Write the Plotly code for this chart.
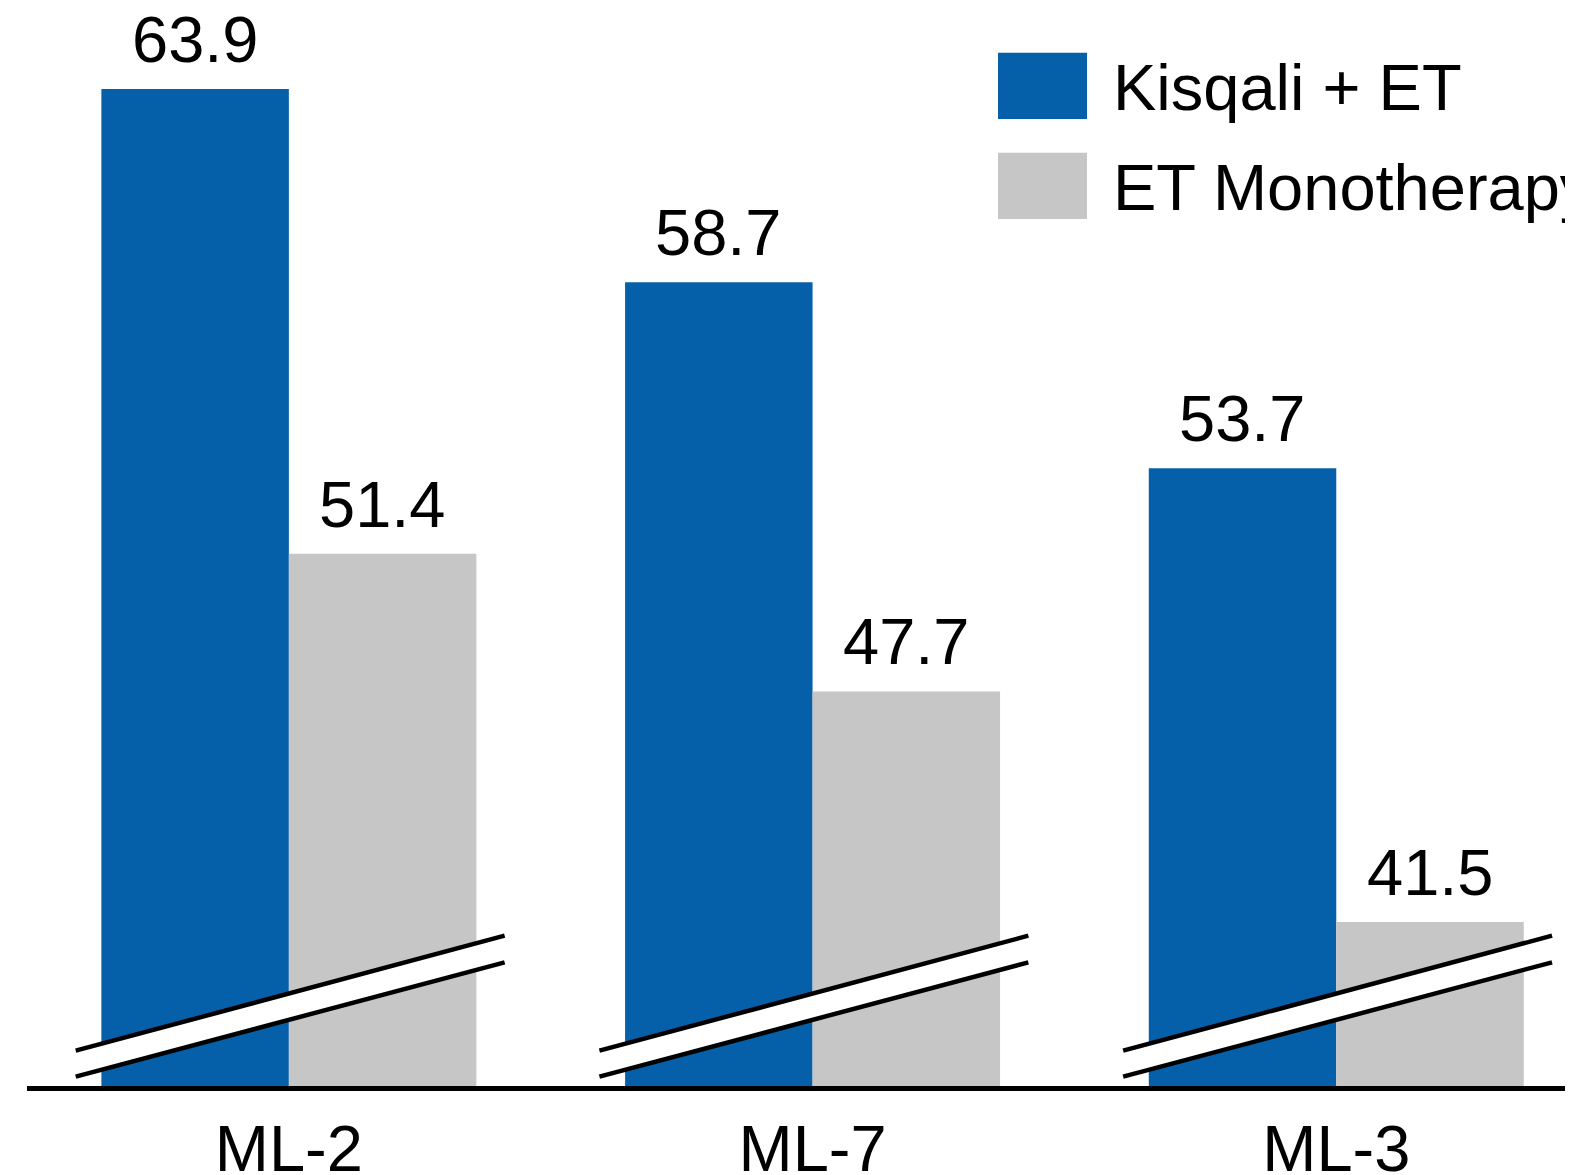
import plotly.graph_objects as go

# ---- data ----
categories = ["ML-2", "ML-7", "ML-3"]
kisqali_et = [63.9, 58.7, 53.7]
et_mono = [51.4, 47.7, 41.5]
series_names = ["Kisqali + ET", "ET Monotherapy"]

BLUE = "#0660A9"
GRAY = "#C6C6C6"
FONT = "Liberation Sans, Arial, sans-serif"
FS = 65

# page has an 8px body margin; lay the figure out so the page matches
OFF = 8
W, H = 1573 - OFF, 1175 - OFF
PLOT_L, PLOT_R, PLOT_T, PLOT_B = 27, 1573, OFF, 1086   # page pixels
ML, MR, MT, MB = PLOT_L - OFF, 1573 - PLOT_R, PLOT_T - OFF, H + OFF - PLOT_B
BARGAP = 0.284
PX_PER_UNIT = 37.19
Y_MIN = 37.09
Y_RANGE = [Y_MIN, Y_MIN + (PLOT_B - PLOT_T) / PX_PER_UNIT]
X_RANGE = [-0.5, 2.452]

fig = go.Figure()
fig.add_trace(go.Bar(x=categories, y=kisqali_et, name=series_names[0],
                     marker=dict(color=BLUE, line=dict(width=0)), showlegend=False))
fig.add_trace(go.Bar(x=categories, y=et_mono, name=series_names[1],
                     marker=dict(color=GRAY, line=dict(width=0)), showlegend=False))

bar_w = (1 - BARGAP) / 2
annotations = []
for i, (a, b) in enumerate(zip(kisqali_et, et_mono)):
    for val, off in ((a, -bar_w / 2), (b, bar_w / 2)):
        annotations.append(dict(x=i + off, y=val, xref="x", yref="y",
                                text=f"{val:.1f}", showarrow=False,
                                yanchor="bottom", xanchor="center", yshift=11,
                                font=dict(family=FONT, size=FS, color="black")))

plot_w = PLOT_R - PLOT_L
plot_h = PLOT_B - PLOT_T
def px_x(px):
    return (px - PLOT_L) / plot_w
def px_y(py):
    return (PLOT_B - py) / plot_h

# legend (custom, large swatches)
shapes = []
legend_rows = [(series_names[0], BLUE, 52.7, 119.0), (series_names[1], GRAY, 152.7, 219.0)]
for name, col, y0, y1 in legend_rows:
    shapes.append(dict(type="rect", xref="paper", yref="paper",
                       x0=px_x(998), x1=px_x(1087), y0=px_y(y1), y1=px_y(y0),
                       fillcolor=col, line=dict(width=0), layer="above"))
    annotations.append(dict(x=px_x(1111), y=px_y((y0 + y1) / 2 + 2), xref="paper", yref="paper",
                            text=name, showarrow=False, xanchor="left", yanchor="middle",
                            font=dict(family=FONT, size=FS, color="black")))

# axis-break marks
bl, br = -0.407, 0.412
top_l, top_r = px_y(1050.7), px_y(935.7)
bot_l, bot_r = px_y(1076.7), px_y(962.3)
for i in range(len(categories)):
    x0, x1 = i + bl, i + br
    shapes.append(dict(type="path", xref="x", yref="paper",
                       path=f"M {x0} {top_l} L {x1} {top_r} L {x1} {bot_r} L {x0} {bot_l} Z",
                       fillcolor="white", line=dict(width=0), layer="above"))
    shapes.append(dict(type="line", xref="x", yref="paper", x0=x0, x1=x1, y0=top_l, y1=top_r,
                       line=dict(color="black", width=4.5), layer="above"))
    shapes.append(dict(type="line", xref="x", yref="paper", x0=x0, x1=x1, y0=bot_l, y1=bot_r,
                       line=dict(color="black", width=4.5), layer="above"))

fig.update_layout(
    width=W, height=H,
    margin=dict(l=ML, r=MR, t=MT, b=MB, pad=0, autoexpand=False),
    paper_bgcolor="white", plot_bgcolor="white",
    barmode="group", bargap=BARGAP, bargroupgap=0,
    showlegend=False,
    annotations=annotations, shapes=shapes,
    xaxis=dict(range=X_RANGE, showline=True, linecolor="black", linewidth=5,
               showgrid=False, zeroline=False, ticks="", automargin=False,
               tickfont=dict(family=FONT, size=FS, color="black"),
               ticklabelstandoff=2),
    yaxis=dict(range=Y_RANGE, visible=False, showgrid=False, zeroline=False,
               automargin=False),
)

fig.write_html("out.html")
